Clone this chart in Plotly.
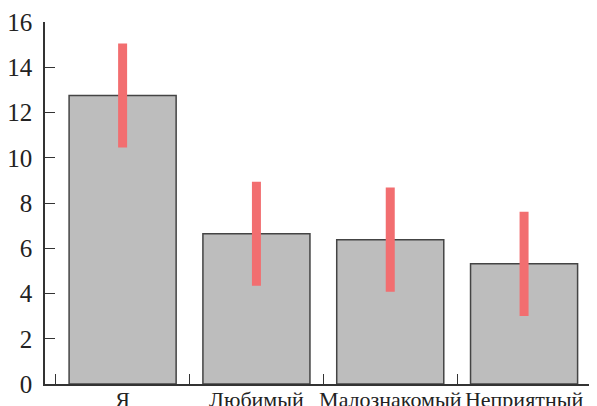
import plotly.graph_objects as go

categories = ["Я", "Любимый", "Малознакомый", "Неприятный"]
values = [12.75, 6.64, 6.38, 5.31]
errors = [2.3, 2.3, 2.3, 2.3]
y_ticks = [0, 2, 4, 6, 8, 10, 12, 14, 16]

fig = go.Figure()
fig.add_trace(go.Bar(
    x=categories,
    y=values,
    width=0.8,
    marker=dict(color="#BDBDBD", line=dict(color="#444444", width=1.5)),
    error_y=dict(type="data", array=errors, visible=True,
                 color="#F26E70", thickness=9, width=0),
))

font_family = "Liberation Serif"
# the page body has an 8px margin, so the figure is shifted by 8px
fig.update_layout(
    width=597, height=406,
    margin=dict(l=37, r=8, t=14, b=30, autoexpand=False),
    paper_bgcolor="white", plot_bgcolor="white",
    showlegend=False,
    font=dict(family=font_family, color="#222222"),
    bargap=0.2,
)
fig.update_xaxes(
    type="category",
    range=[-0.58, 3.545], automargin=False,
    tickson="boundaries", tickangle=0,
    ticks="inside", ticklen=10, tickwidth=1.3, tickcolor="#333333",
    showline=True, linecolor="#333333", linewidth=1.5,
    showgrid=False, zeroline=False,
    tickfont=dict(size=22, family=font_family, color="#222222"),
    ticklabelstandoff=-5,
)
fig.update_yaxes(
    range=[0, 16], automargin=False,
    tickmode="array", tickvals=y_ticks, ticktext=[str(v) for v in y_ticks],
    ticks="inside", ticklen=10, tickwidth=1.3, tickcolor="#333333",
    showline=True, linecolor="#333333", linewidth=1.5,
    showgrid=False, zeroline=False,
    tickfont=dict(size=25, family=font_family, color="#222222"),
    ticklabelstandoff=6,
)

fig.write_html("out.html")
